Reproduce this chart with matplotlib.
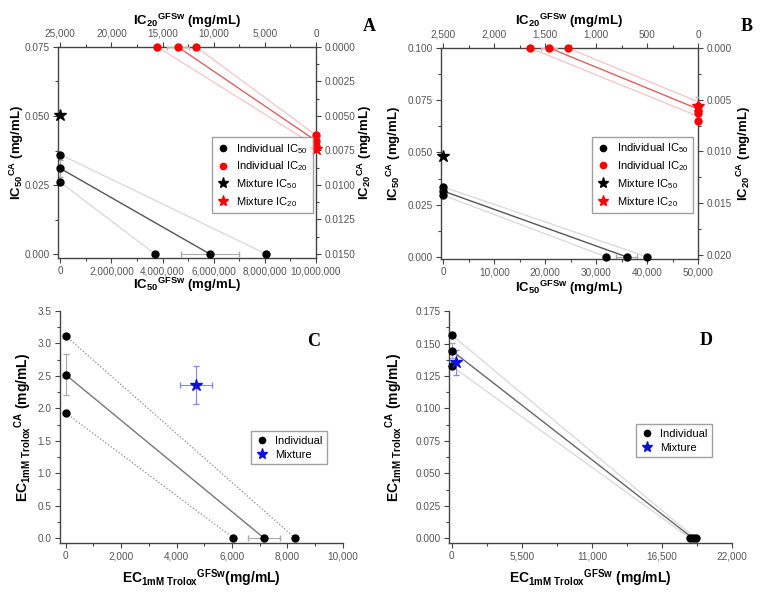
import matplotlib
matplotlib.use('Agg')
import matplotlib.pyplot as plt
from matplotlib.lines import Line2D
from matplotlib.ticker import MultipleLocator, FuncFormatter, AutoMinorLocator

plt.rcParams['font.family'] = ['Liberation Sans', 'DejaVu Sans']
plt.rcParams['mathtext.default'] = 'regular'

# ---- panel A data ----
a50_y0 = [0.036, 0.031, 0.026]          # individual IC50 on CA axis
a50_x0 = [8050000, 5850000, 3700000]    # individual IC50 on GFSw axis
a50_mix = (0, 0.0505)
a20_x0 = [15500, 13500, 11700]          # individual IC20 on GFSw (top axis)
a20_y0 = [0.0072, 0.0068, 0.0064]       # individual IC20 on CA (right axis)
a20_mix = (0, 0.0074)

# ---- panel B data ----
b50_y0 = [0.0335, 0.0315, 0.0295]
b50_x0 = [40000, 36000, 32000]
b50_mix = (0, 0.0485)
b20_x0 = [1650, 1460, 1280]
b20_y0 = [0.0071, 0.0063, 0.0056]
b20_line_y = [0.0066, 0.0059, 0.0052]
b20_mix = (0, 0.0056)

# ---- panel C data ----
c_y0 = [3.12, 2.52, 1.93]
c_x0 = [8270, 7150, 6050]
c_mix = (4700, 2.36)
c_mix_err = (580, 0.30)

# ---- panel D data ----
d_y0 = [0.1565, 0.1445, 0.1325]
d_x0 = [19150, 18950, 18750]
d_mix = (300, 0.1355)
d_mix_err = (0, 0.0095)

TICK_C = '#555555'
SPINE_C = '#444444'
LIGHT = '#d8d8d8'
LIGHT_RED = '#f5c4c4'
LAB_AB = 9.5
LAB_CD = 10


def comma(x, pos):
    return '{:,.0f}'.format(x)


def style(ax):
    ax.tick_params(which='both', direction='out', colors=SPINE_C, labelcolor=TICK_C,
                   labelsize=7.2, length=3.5, width=0.8, pad=2.5)
    ax.tick_params(which='minor', length=2)
    for s in ax.spines.values():
        s.set_color(SPINE_C)
        s.set_linewidth(1.0)


def isobole(ax, xs, ys, main_c, light_c, ls_light='-'):
    # outer lines are bounds, middle is the mean isobole
    for i in (0, 2):
        ax.plot([0, xs[i]], [ys[i], 0], color=light_c, lw=0.9, ls=ls_light, zorder=1)
    ax.plot([0, xs[1]], [ys[1], 0], color=main_c, lw=1.0, zorder=2)


def place_labels(ax, xy_x=None, xy_y=None):
    # put axis labels centred at fixed axes coords
    if xy_x is not None:
        ax.xaxis.label.set_verticalalignment('center')
        ax.xaxis.set_label_coords(*xy_x)
    if xy_y is not None:
        ax.yaxis.label.set_verticalalignment('center')
        ax.yaxis.set_label_coords(*xy_y)


fig = plt.figure(figsize=(7.62, 5.97), dpi=100)

leg_kw = dict(fontsize=8, frameon=True, fancybox=False, edgecolor='#888888',
              handlelength=1.2, handletextpad=0.6, borderpad=0.4, labelspacing=0.35,
              loc='lower left', borderaxespad=0)

# ================= A =================
axA = fig.add_axes([0.0761, 0.5678, 0.3386, 0.3535])
isobole(axA, a50_x0, a50_y0, '#555555', LIGHT)
axA.errorbar([a50_x0[1]], [0], xerr=[1150000], fmt='none', ecolor='#aaaaaa', elinewidth=0.8, capsize=2)
axA.errorbar([0], [a50_y0[1]], yerr=[0.003], fmt='none', ecolor='#aaaaaa', elinewidth=0.8, capsize=2)
axA.plot([0] * 3, a50_y0, 'o', color='black', ms=5, clip_on=False, zorder=5)
axA.plot(a50_x0, [0] * 3, 'o', color='black', ms=5, clip_on=False, zorder=5)
axA.plot([a50_mix[0]], [a50_mix[1]], '*', color='black', ms=9, clip_on=False, zorder=5)
axA.set_xlim(-92000, 10000000)
axA.set_ylim(-0.00145, 0.075)
axA.xaxis.set_major_locator(MultipleLocator(2000000))
axA.xaxis.set_minor_locator(AutoMinorLocator(2))
axA.xaxis.set_major_formatter(FuncFormatter(comma))
axA.yaxis.set_major_locator(MultipleLocator(0.025))
axA.yaxis.set_minor_locator(AutoMinorLocator(2))
axA.yaxis.set_major_formatter(FuncFormatter(lambda v, p: '{:.3f}'.format(v)))
axA.set_xlabel('IC$_{50}$$^{GFSw}$ (mg/mL)', fontsize=LAB_AB, fontweight='bold')
axA.set_ylabel('IC$_{50}$$^{CA}$ (mg/mL)', fontsize=LAB_AB, fontweight='bold')
place_labels(axA, (0.5, -0.127), (-0.16, 0.5))
style(axA)

axA2 = fig.add_axes(axA.get_position(), facecolor='none')
isobole(axA2, a20_x0, a20_y0, '#e06060', LIGHT_RED)
axA2.errorbar([a20_x0[1]], [0], xerr=[1100], fmt='none', ecolor='#e8a0a0', elinewidth=0.8, capsize=2)
axA2.plot(a20_x0, [0] * 3, 'o', color='red', ms=5, clip_on=False, zorder=5)
axA2.plot([0] * 3, a20_y0, 'o', color='red', ms=5, clip_on=False, zorder=5)
axA2.plot([a20_mix[0]], [a20_mix[1]], '*', color='red', ms=9, clip_on=False, zorder=5)
axA2.set_xlim(25230, 0)
axA2.set_ylim(0.0153, 0)
axA2.xaxis.tick_top()
axA2.yaxis.tick_right()
axA2.xaxis.set_label_position('top')
axA2.yaxis.set_label_position('right')
axA2.xaxis.set_major_locator(MultipleLocator(5000))
axA2.xaxis.set_minor_locator(AutoMinorLocator(2))
axA2.xaxis.set_major_formatter(FuncFormatter(comma))
axA2.yaxis.set_major_locator(MultipleLocator(0.0025))
axA2.yaxis.set_minor_locator(AutoMinorLocator(2))
axA2.yaxis.set_major_formatter(FuncFormatter(lambda v, p: '{:.4f}'.format(v)))
axA2.set_xlabel('IC$_{20}$$^{GFSw}$ (mg/mL)', fontsize=LAB_AB, fontweight='bold')
axA2.set_ylabel('IC$_{20}$$^{CA}$ (mg/mL)', fontsize=LAB_AB, fontweight='bold')
place_labels(axA2, (0.5, 1.125), (1.19, 0.5))
style(axA2)
for s in axA2.spines.values():
    s.set_visible(False)

handles4 = [
    Line2D([], [], ls='none', marker='o', color='black', ms=4.5, label='Individual IC$_{50}$'),
    Line2D([], [], ls='none', marker='o', color='red', ms=4.5, label='Individual IC$_{20}$'),
    Line2D([], [], ls='none', marker='*', color='black', ms=8, label='Mixture IC$_{50}$'),
    Line2D([], [], ls='none', marker='*', color='red', ms=8, label='Mixture IC$_{20}$'),
]
axA2.legend(handles=handles4, bbox_to_anchor=(0.597, 0.213), **leg_kw)
fig.text(0.485, 0.955, 'A', fontsize=13, fontweight='bold', family='Liberation Serif', ha='center', va='center')

# ================= B =================
axB = fig.add_axes([0.5787, 0.5662, 0.3373, 0.3535])
isobole(axB, b50_x0, b50_y0, '#555555', LIGHT)
axB.errorbar([b50_x0[1]], [0], xerr=[2100], fmt='none', ecolor='#aaaaaa', elinewidth=0.8, capsize=2)
axB.plot([0] * 3, b50_y0, 'o', color='black', ms=5, clip_on=False, zorder=5)
axB.plot(b50_x0, [0] * 3, 'o', color='black', ms=5, clip_on=False, zorder=5)
axB.plot([b50_mix[0]], [b50_mix[1]], '*', color='black', ms=9, clip_on=False, zorder=5)
axB.set_xlim(-450, 50000)
axB.set_ylim(-0.001, 0.1)
axB.xaxis.set_major_locator(MultipleLocator(10000))
axB.xaxis.set_minor_locator(AutoMinorLocator(2))
axB.xaxis.set_major_formatter(FuncFormatter(comma))
axB.yaxis.set_major_locator(MultipleLocator(0.025))
axB.yaxis.set_minor_locator(AutoMinorLocator(2))
axB.yaxis.set_major_formatter(FuncFormatter(lambda v, p: '{:.3f}'.format(v)))
axB.set_xlabel('IC$_{50}$$^{GFSw}$ (mg/mL)', fontsize=LAB_AB, fontweight='bold')
axB.set_ylabel('IC$_{50}$$^{CA}$ (mg/mL)', fontsize=LAB_AB, fontweight='bold')
place_labels(axB, (0.5, -0.135), (-0.183, 0.5))
style(axB)

axB2 = fig.add_axes(axB.get_position(), facecolor='none')
isobole(axB2, b20_x0, b20_line_y, '#e06060', LIGHT_RED)
axB2.errorbar([b20_x0[1]], [0], xerr=[80], fmt='none', ecolor='#e8a0a0', elinewidth=0.8, capsize=2)
axB2.errorbar([0], [b20_mix[1]], yerr=[0.0009], fmt='none', ecolor='#e8a0a0', elinewidth=0.8, capsize=2)
axB2.plot(b20_x0, [0] * 3, 'o', color='red', ms=5, clip_on=False, zorder=5)
axB2.plot([0] * 3, b20_y0, 'o', color='red', ms=5, clip_on=False, zorder=5)
axB2.plot([b20_mix[0]], [b20_mix[1]], '*', color='red', ms=9, clip_on=False, zorder=5)
axB2.set_xlim(2523, 0)
axB2.set_ylim(0.0204, 0)
axB2.xaxis.tick_top()
axB2.yaxis.tick_right()
axB2.xaxis.set_label_position('top')
axB2.yaxis.set_label_position('right')
axB2.xaxis.set_major_locator(MultipleLocator(500))
axB2.xaxis.set_minor_locator(AutoMinorLocator(2))
axB2.xaxis.set_major_formatter(FuncFormatter(comma))
axB2.yaxis.set_major_locator(MultipleLocator(0.005))
axB2.yaxis.set_minor_locator(AutoMinorLocator(2))
axB2.yaxis.set_major_formatter(FuncFormatter(lambda v, p: '{:.3f}'.format(v)))
axB2.set_xlabel('IC$_{20}$$^{GFSw}$ (mg/mL)', fontsize=LAB_AB, fontweight='bold')
axB2.set_ylabel('IC$_{20}$$^{CA}$ (mg/mL)', fontsize=LAB_AB, fontweight='bold')
place_labels(axB2, (0.5, 1.128), (1.178, 0.5))
style(axB2)
for s in axB2.spines.values():
    s.set_visible(False)
axB2.legend(handles=handles4, bbox_to_anchor=(0.588, 0.218), **leg_kw)
fig.text(0.98, 0.955, 'B', fontsize=13, fontweight='bold', family='Liberation Serif', ha='center', va='center')

# ================= C =================
axC = fig.add_axes([0.0787, 0.0905, 0.3714, 0.3885])
isobole(axC, c_x0, c_y0, '#777777', '#888888', ls_light=':')
axC.errorbar([c_x0[1]], [0], xerr=[570], fmt='none', ecolor='#aaaaaa', elinewidth=0.8, capsize=2)
axC.errorbar([0], [c_y0[1]], yerr=[0.31], fmt='none', ecolor='#aaaaaa', elinewidth=0.8, capsize=2)
axC.errorbar([c_mix[0]], [c_mix[1]], xerr=[c_mix_err[0]], yerr=[c_mix_err[1]], fmt='none',
             ecolor='#8888dd', elinewidth=0.8, capsize=2)
axC.plot([0] * 3, c_y0, 'o', color='black', ms=5, clip_on=False, zorder=5)
axC.plot(c_x0, [0] * 3, 'o', color='black', ms=5, clip_on=False, zorder=5)
axC.plot([c_mix[0]], [c_mix[1]], '*', color='#1010dd', ms=9, zorder=5)
axC.set_xlim(-200, 10000)
axC.set_ylim(-0.077, 3.5)
axC.xaxis.set_major_locator(MultipleLocator(2000))
axC.xaxis.set_minor_locator(AutoMinorLocator(2))
axC.xaxis.set_major_formatter(FuncFormatter(comma))
axC.yaxis.set_major_locator(MultipleLocator(0.5))
axC.yaxis.set_minor_locator(AutoMinorLocator(2))
axC.yaxis.set_major_formatter(FuncFormatter(lambda v, p: '{:.1f}'.format(v)))
axC.spines['top'].set_visible(False)
axC.spines['right'].set_visible(False)
axC.set_xlabel('EC$_{1mM\\ Trolox}$$^{GFSw}$(mg/mL)', fontsize=LAB_CD, fontweight='bold')
axC.set_ylabel('EC$_{1mM\\ Trolox}$$^{CA}$ (mg/mL)', fontsize=LAB_CD, fontweight='bold')
place_labels(axC, (0.5, -0.15), (-0.131, 0.5))
style(axC)
handles2 = [
    Line2D([], [], ls='none', marker='o', color='black', ms=4.5, label='Individual'),
    Line2D([], [], ls='none', marker='*', color='#1010dd', ms=8, label='Mixture'),
]
axC.legend(handles=handles2, bbox_to_anchor=(0.675, 0.34), **leg_kw)
fig.text(0.412, 0.428, 'C', fontsize=13, fontweight='bold', family='Liberation Serif', ha='center', va='center')

# ================= D =================
axD = fig.add_axes([0.589, 0.0905, 0.3714, 0.3885])
isobole(axD, d_x0, d_y0, '#666666', LIGHT)
axD.errorbar([0], [d_y0[1]], yerr=[0.006], fmt='none', ecolor='#aaaaaa', elinewidth=0.8, capsize=2)
axD.errorbar([d_mix[0]], [d_mix[1]], yerr=[d_mix_err[1]], fmt='none',
             ecolor='#8888dd', elinewidth=0.8, capsize=2)
axD.plot([0] * 3, d_y0, 'o', color='black', ms=5, clip_on=False, zorder=5)
axD.plot(d_x0, [0] * 3, 'o', color='black', ms=5, clip_on=False, zorder=5)
axD.plot([d_mix[0]], [d_mix[1]], '*', color='#1010dd', ms=9, zorder=6)
axD.set_xlim(-240, 22000)
axD.set_ylim(-0.0035, 0.175)
axD.xaxis.set_major_locator(MultipleLocator(5500))
axD.xaxis.set_minor_locator(AutoMinorLocator(2))
axD.xaxis.set_major_formatter(FuncFormatter(comma))
axD.yaxis.set_major_locator(MultipleLocator(0.025))
axD.yaxis.set_minor_locator(AutoMinorLocator(2))
axD.yaxis.set_major_formatter(FuncFormatter(lambda v, p: '{:.3f}'.format(v)))
axD.spines['top'].set_visible(False)
axD.spines['right'].set_visible(False)
axD.set_xlabel('EC$_{1mM\\ Trolox}$$^{GFSw}$ (mg/mL)', fontsize=LAB_CD, fontweight='bold')
axD.set_ylabel('EC$_{1mM\\ Trolox}$$^{CA}$ (mg/mL)', fontsize=LAB_CD, fontweight='bold')
place_labels(axD, (0.5, -0.15), (-0.194, 0.5))
style(axD)
axD.legend(handles=handles2, bbox_to_anchor=(0.661, 0.37), **leg_kw)
fig.text(0.927, 0.43, 'D', fontsize=13, fontweight='bold', family='Liberation Serif', ha='center', va='center')

fig.savefig('out.png', dpi=100)
